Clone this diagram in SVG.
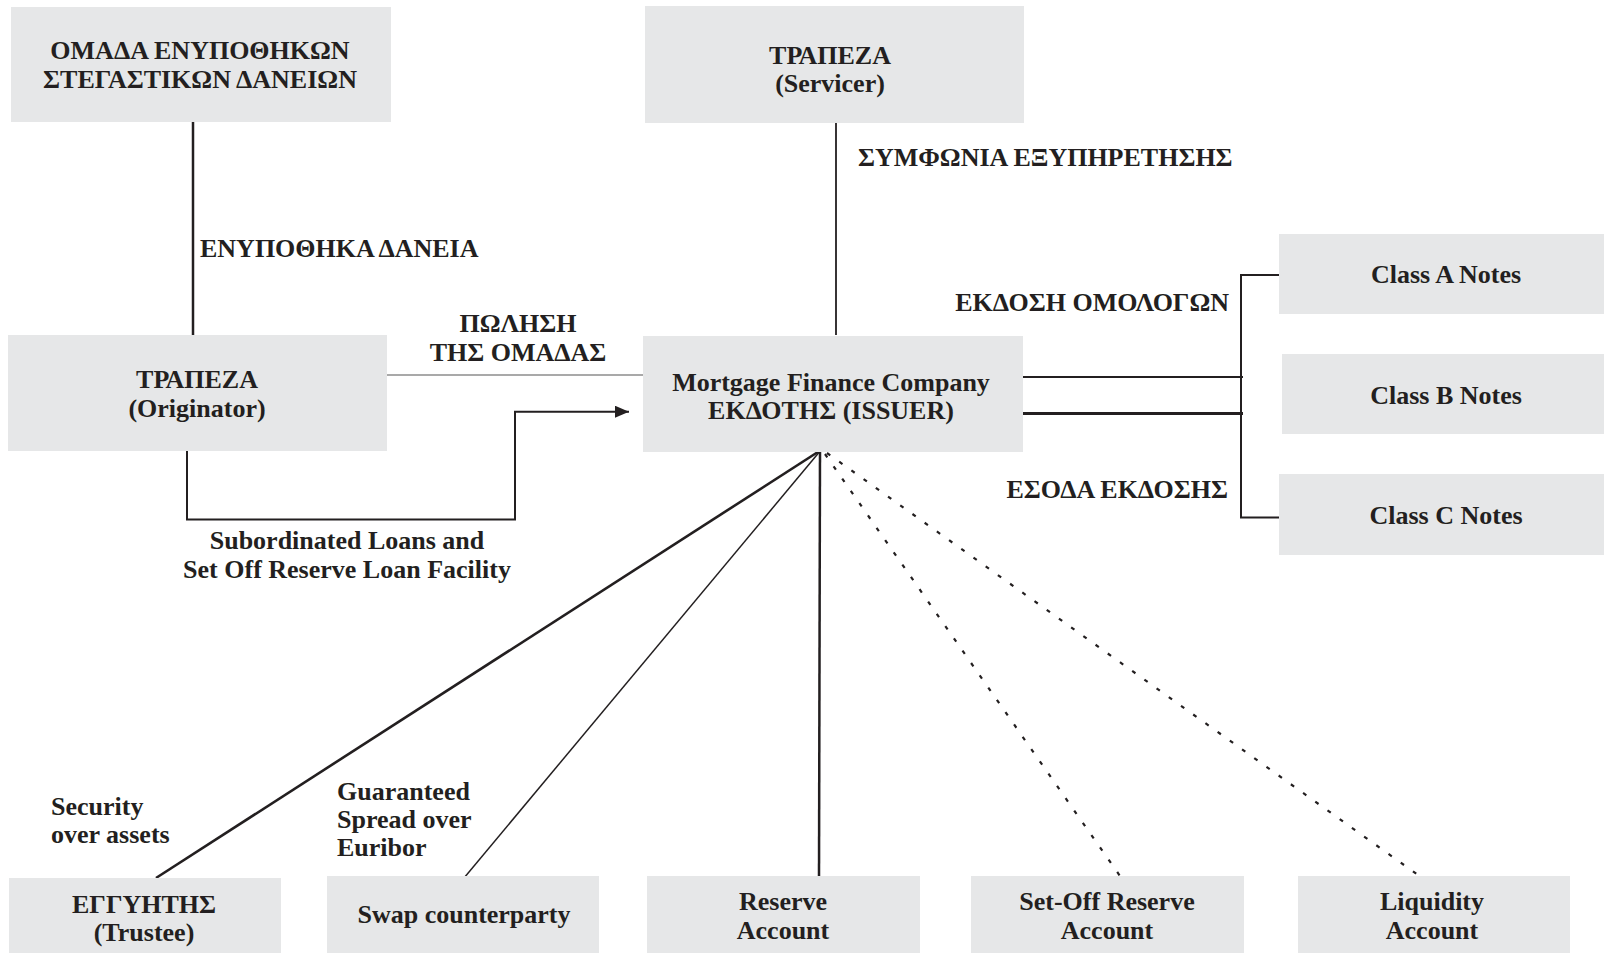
<svg xmlns="http://www.w3.org/2000/svg" width="1604" height="953" viewBox="0 0 1604 953">
<defs>
<style>
.box{fill:#e6e7e8;}
text{font-family:"Liberation Serif","Times New Roman",serif;font-weight:bold;font-size:26px;fill:#231f20;}
.c{text-anchor:middle;}
.e{text-anchor:end;}
.ln{stroke:#231f20;fill:none;}
</style>
<marker id="arr" markerWidth="14" markerHeight="12" refX="14" refY="6" orient="auto" markerUnits="userSpaceOnUse">
<path d="M0,0 L14,6 L0,12 Z" fill="#231f20"/>
</marker>
</defs>
<rect width="1604" height="953" fill="#ffffff"/>

<g id="connectors">
<line class="ln" x1="193" y1="122" x2="193" y2="335" stroke-width="2.5"/>
<line class="ln" x1="836" y1="122" x2="836" y2="335" stroke-width="1.8"/>
<line x1="387" y1="375" x2="643" y2="375" stroke="#555" stroke-width="1.2"/>
<path class="ln" d="M187,450 V519.5 H515 V411.7 H629" stroke-width="2" marker-end="url(#arr)"/>
<line class="ln" x1="1022" y1="377" x2="1243" y2="377" stroke-width="2"/>
<line class="ln" x1="1022" y1="413.5" x2="1243" y2="413.5" stroke-width="3"/>
<path class="ln" d="M1279,275 H1241 V517.5 H1279" stroke-width="2"/>
<line class="ln" x1="821" y1="450" x2="156" y2="878" stroke-width="2.6"/>
<line class="ln" x1="821" y1="450" x2="464" y2="878" stroke-width="1.5"/>
<line class="ln" x1="820" y1="450" x2="819" y2="876" stroke-width="2.5"/>
<line class="ln" x1="825" y1="454" x2="1120" y2="876" stroke-width="2.2" stroke-dasharray="4 11"/>
<line class="ln" x1="827" y1="453" x2="1418" y2="875" stroke-width="2.2" stroke-dasharray="4 11"/>
<text x="200" y="257">ΕΝΥΠΟΘΗΚΑ ΔΑΝΕΙΑ</text>
<text class="c" x="518" y="332">ΠΩΛΗΣΗ</text>
<text class="c" x="518" y="361">ΤΗΣ ΟΜΑΔΑΣ</text>
<text x="858" y="166">ΣΥΜΦΩΝΙΑ ΕΞΥΠΗΡΕΤΗΣΗΣ</text>
<text class="e" x="1229" y="311">ΕΚΔΟΣΗ ΟΜΟΛΟΓΩΝ</text>
<text class="e" x="1228" y="498">ΕΣΟΔΑ ΕΚΔΟΣΗΣ</text>
<text class="c" x="347" y="549">Subordinated Loans and</text>
<text class="c" x="347" y="578">Set Off Reserve Loan Facility</text>
<text x="51" y="815">Security</text>
<text x="51" y="843">over assets</text>
<text x="337" y="800">Guaranteed</text>
<text x="337" y="828">Spread over</text>
<text x="337" y="856">Euribor</text>
</g>

<g id="pool">
<rect class="box" x="11" y="7" width="380" height="115"/>
<text class="c" x="200" y="59">ΟΜΑΔΑ ΕΝΥΠΟΘΗΚΩΝ</text>
<text class="c" x="200" y="88">ΣΤΕΓΑΣΤΙΚΩΝ ΔΑΝΕΙΩΝ</text>
</g>
<g id="servicer">
<rect class="box" x="645" y="6" width="379" height="117"/>
<text class="c" x="830" y="64">ΤΡΑΠΕΖΑ</text>
<text class="c" x="830" y="92">(Servicer)</text>
</g>
<g id="originator">
<rect class="box" x="8" y="335" width="379" height="116"/>
<text class="c" x="197" y="388">ΤΡΑΠΕΖΑ</text>
<text class="c" x="197" y="417">(Originator)</text>
</g>
<g id="issuer">
<rect class="box" x="643" y="336" width="380" height="116"/>
<text class="c" x="831" y="391">Mortgage Finance Company</text>
<text class="c" x="831" y="419">ΕΚΔΟΤΗΣ (ISSUER)</text>
</g>
<g id="classA">
<rect class="box" x="1279" y="234" width="325" height="80"/>
<text class="c" x="1446" y="283">Class A Notes</text>
</g>
<g id="classB">
<rect class="box" x="1282" y="354" width="322" height="80"/>
<text class="c" x="1446" y="404">Class B Notes</text>
</g>
<g id="classC">
<rect class="box" x="1279" y="474" width="325" height="81"/>
<text class="c" x="1446" y="524">Class C Notes</text>
</g>
<g id="trustee">
<rect class="box" x="9" y="878" width="272" height="75"/>
<text class="c" x="144" y="913">ΕΓΓΥΗΤΗΣ</text>
<text class="c" x="144" y="941">(Trustee)</text>
</g>
<g id="swap">
<rect class="box" x="327" y="876" width="272" height="77"/>
<text class="c" x="464" y="923">Swap counterparty</text>
</g>
<g id="reserve">
<rect class="box" x="647" y="876" width="273" height="77"/>
<text class="c" x="783" y="910">Reserve</text>
<text class="c" x="783" y="939">Account</text>
</g>
<g id="setoff">
<rect class="box" x="971" y="876" width="273" height="77"/>
<text class="c" x="1107" y="910">Set-Off Reserve</text>
<text class="c" x="1107" y="939">Account</text>
</g>
<g id="liquidity">
<rect class="box" x="1298" y="876" width="272" height="77"/>
<text class="c" x="1432" y="910">Liquidity</text>
<text class="c" x="1432" y="939">Account</text>
</g>
</svg>
